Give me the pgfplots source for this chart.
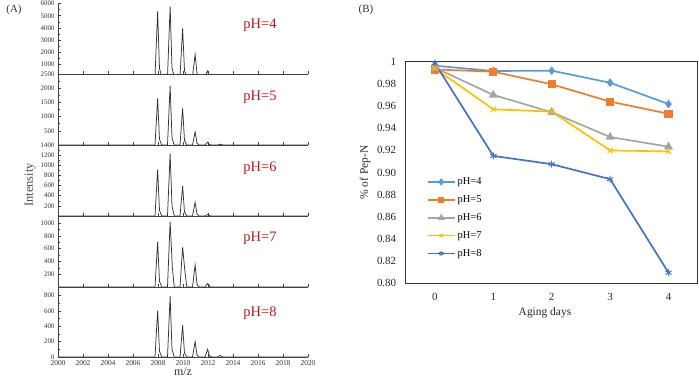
\documentclass[border=0pt]{standalone}
\usepackage{pgfplots}
\pgfplotsset{compat=1.18}
\usepackage{fontspec}
\setmainfont{Liberation Serif}
\definecolor{phred}{HTML}{B01C1C}
\definecolor{cA}{HTML}{5B9BD5}
\definecolor{cB}{HTML}{ED7D31}
\definecolor{cC}{HTML}{A5A5A5}
\definecolor{cD}{HTML}{FFC000}
\definecolor{cE}{HTML}{4472C4}

\pgfplotsset{
  spec/.style={scale only axis, width=250bp, height=71bp, anchor=south west,
    xmin=2000, xmax=2020, axis x line*=bottom, axis y line*=left,
    xtick={2000,2002,...,2020}, xticklabels={},
    tick align=inside, major tick length=2.5bp, minor tick length=1.5bp,
    minor y tick num=1,
    tick label style={font=\fontsize{7}{8}\selectfont, black!80},
    /pgf/number format/assume math mode=true,
    /pgf/number format/set thousands separator={},
    scaled y ticks=false,
    axis line style={line width=0.8pt, black!75},
    every tick/.style={black!75, line width=0.5pt}},
  peak/.style={black!80, line width=0.75pt, no marks}
}
\tikzset{phlab/.style={font=\fontsize{14.5}{16}\selectfont, text=phred}}

\begin{document}
\begin{tikzpicture}
\useasboundingbox (0,0) rectangle (699bp,378bp);

% pH=4
\begin{axis}[spec, at={(58bp,304bp)}, ymin=200, ymax=6050, ytick={1000,2000,...,6000}]
\addplot[peak] coordinates {(2000,0) (2007.76,0) (2007.97,5350) (2008.12,640) (2008.3,0)
 (2008.76,0) (2008.97,5750) (2009.12,690) (2009.3,0)
 (2009.76,0) (2009.97,3950) (2010.12,470) (2010.3,0)
 (2010.76,0) (2010.97,1800) (2011.12,220) (2011.3,0)
 (2011.76,0) (2011.97,450) (2012.12,50) (2012.3,0) (2020,0)};
\end{axis}
% pH=5
\begin{axis}[spec, at={(58bp,233bp)}, ymin=0, ymax=2500, ytick={500,1000,...,2500}]
\addplot[peak] coordinates {(2000,0) (2007.76,0) (2007.97,1640) (2008.12,200) (2008.3,0)
 (2008.76,0) (2008.97,2080) (2009.12,250) (2009.3,0)
 (2009.76,0) (2009.97,1290) (2010.12,160) (2010.3,0)
 (2010.76,0) (2010.97,460) (2011.12,60) (2011.3,0)
 (2011.76,0) (2011.97,100) (2012.12,10) (2012.3,0)
 (2012.8,0) (2012.97,30) (2013.2,0) (2020,0)};
\end{axis}
% pH=6
\begin{axis}[spec, at={(58bp,162bp)}, ymin=0, ymax=1400, ytick={200,400,...,1400}]
\addplot[peak] coordinates {(2000,0) (2007.76,0) (2007.97,915) (2008.12,110) (2008.3,0)
 (2008.76,0) (2008.97,1230) (2009.12,200) (2009.3,0)
 (2009.76,0) (2009.97,590) (2010.12,80) (2010.3,0)
 (2010.76,0) (2010.97,270) (2011.12,35) (2011.3,0)
 (2011.76,0) (2011.97,30) (2012.2,0) (2020,0)};
\end{axis}
% pH=7
\begin{axis}[spec, at={(58bp,91bp)}, ymin=0, ymax=1110, ytick={200,400,...,1000}]
\addplot[peak] coordinates {(2000,0) (2007.76,0) (2007.97,705) (2008.12,90) (2008.3,0)
 (2008.76,0) (2008.97,1020) (2009.15,300) (2009.3,0)
 (2009.76,0) (2009.97,620) (2010.15,250) (2010.3,0)
 (2010.76,0) (2010.97,345) (2011.12,40) (2011.3,0)
 (2011.76,0) (2011.97,55) (2012.2,0) (2020,0)};
\end{axis}
% pH=8
\begin{axis}[spec, at={(58bp,21bp)}, height=70bp, ymin=0, ymax=910, ytick={0,200,...,800},
  xticklabels={2000,2002,2004,2006,2008,2010,2012,2014,2016,2018,2020},
  xticklabel style={font=\fontsize{7.5}{8}\selectfont, yshift=-0.5bp}]
\addplot[peak] coordinates {(2000,0) (2007.76,0) (2007.97,600) (2008.12,75) (2008.3,0)
 (2008.76,0) (2008.97,790) (2009.12,100) (2009.3,0)
 (2009.76,0) (2009.97,410) (2010.12,50) (2010.3,0)
 (2010.76,0) (2010.97,200) (2011.12,25) (2011.3,0)
 (2011.76,0) (2011.97,100) (2012.12,12) (2012.3,0)
 (2012.8,0) (2012.97,20) (2013.2,0) (2020,0)};
\end{axis}

\node[phlab] at (260bp,353bp) {pH=4};
\node[phlab] at (260bp,281bp) {pH=5};
\node[phlab] at (260bp,210bp) {pH=6};
\node[phlab] at (260bp,140bp) {pH=7};
\node[phlab] at (260bp,65bp) {pH=8};
\node[rotate=90, font=\fontsize{12.5}{14}\selectfont, text=black!70] at (30bp,193bp) {Intensity};
\node[anchor=base, inner sep=0pt, font=\fontsize{12}{14}\selectfont, text=black!80] at (183bp,2.5bp) {m/z};
\node[font=\fontsize{11}{13}\selectfont, text=black!80] at (14bp,368bp) {(A)};
\node[font=\fontsize{11}{13}\selectfont, text=black!80] at (366bp,368bp) {(B)};

% panel B
\begin{axis}[at={(405.7bp,94.7bp)}, anchor=south west, scale only axis,
  width=292bp, height=221.6bp,
  xmin=-0.5, xmax=4.5, ymin=0.8, ymax=1.0,
  xtick={0,1,2,3,4},
  ytick={0.8,0.82,0.84,0.86,0.88,0.9,0.92,0.94,0.96,0.98,1},
  yticklabels={0.80,0.82,0.84,0.86,0.88,0.90,0.92,0.94,0.96,0.98,1},
  major tick length=0,
  tick label style={font=\fontsize{11}{13}\selectfont, black!85},
  /pgf/number format/assume math mode=true,
  yticklabel style={xshift=-6bp},
  xticklabel style={yshift=-6bp},
  axis line style={black!80, line width=0.8pt},
  xlabel={Aging days}, ylabel={\% of Pep-N},
  label style={font=\fontsize{11.5}{13}\selectfont, black!85},
  xlabel style={at={(axis description cs:0.477,-0.134)}, anchor=center},
  ylabel style={at={(axis description cs:-0.139,0.5)}, anchor=center},
  legend style={draw=none, fill=none, at={(axis description cs:0.065,0.495)}, anchor=north west,
    font=\fontsize{10.5}{12}\selectfont, row sep=5.5bp, inner sep=2bp},
  legend cell align=left,
  legend image code/.code={\draw[#1, mark=none] (0bp,0bp) -- (27bp,0bp);
    \draw[#1, mark size=2.4bp] plot coordinates {(13.5bp,0bp)};},
  every axis plot/.append style={line width=1.7pt}
]
\addplot[cA, mark=diamond*, mark size=3bp] coordinates {(0,0.9964) (1,0.9916) (2,0.9919) (3,0.981) (4,0.9618)};
\addplot[cB, mark=square*, mark size=3.2bp] coordinates {(0,0.993) (1,0.991) (2,0.9796) (3,0.964) (4,0.953)};
\addplot[cC, mark=triangle*, mark size=3.5bp] coordinates {(0,0.9946) (1,0.970) (2,0.9544) (3,0.932) (4,0.9233)};
\addplot[cD, mark=x, mark size=3.5bp, mark options={line width=1pt}] coordinates {(0,0.994) (1,0.957) (2,0.955) (3,0.9199) (4,0.919)};
\addplot[cE, mark=asterisk, mark size=3.5bp, mark options={line width=1pt}] coordinates {(0,0.9986) (1,0.915) (2,0.9075) (3,0.894) (4,0.8096)};
\legend{pH=4,pH=5,pH=6,pH=7,pH=8}
\end{axis}
\end{tikzpicture}
\end{document}
